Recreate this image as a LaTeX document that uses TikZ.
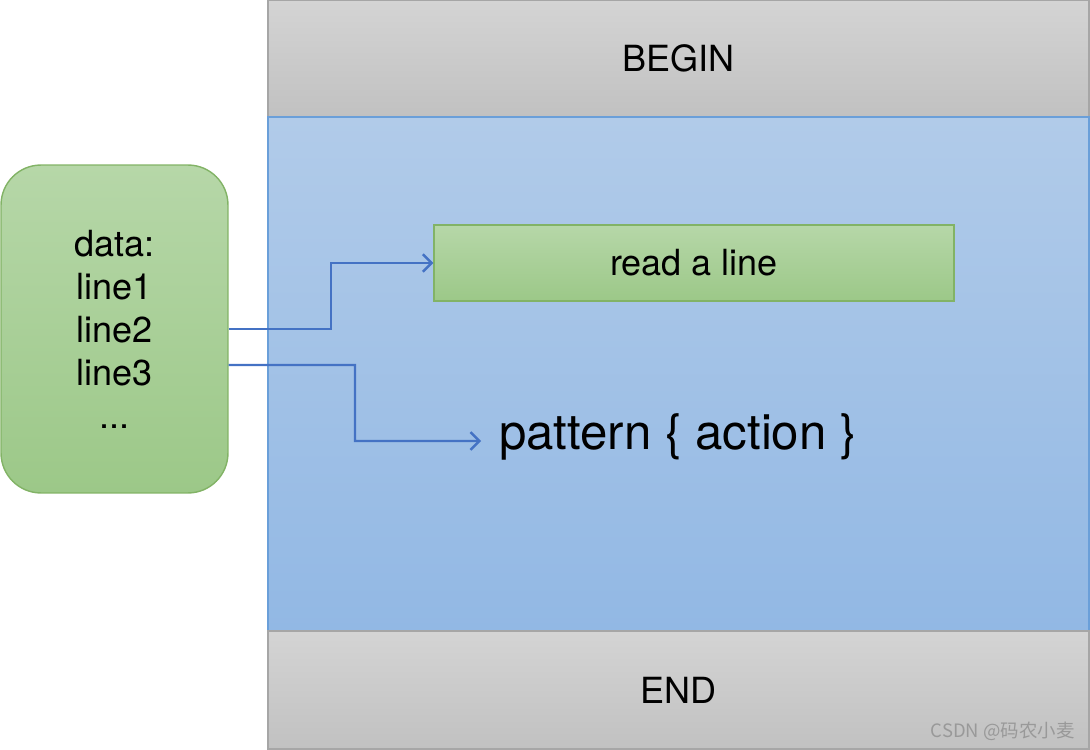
\documentclass[tikz,border=0pt]{standalone}
\usepackage{fontspec}
\setmainfont{TeX Gyre Heros}
\newfontfamily\cjk{Noto Sans CJK SC}
\usetikzlibrary{arrows.meta}
\definecolor{grayTop}{HTML}{D4D4D4}
\definecolor{grayBot}{HTML}{C1C1C1}
\definecolor{grayLine}{HTML}{A6A6A6}
\definecolor{blueTop}{HTML}{B1CBE9}
\definecolor{blueBot}{HTML}{92B8E4}
\definecolor{blueLine}{HTML}{6A9FD9}
\definecolor{greenTop}{HTML}{B6D7A8}
\definecolor{greenBot}{HTML}{9CC888}
\definecolor{greenLine}{HTML}{82B366}
\definecolor{arrowBlue}{HTML}{4472C4}
\tikzset{
  graybox/.style={draw=grayLine, line width=0.8pt, top color=grayTop, bottom color=grayBot,
    minimum width=16.42cm, inner sep=0pt},
  bluebox/.style={draw=blueLine, line width=0.8pt, top color=blueTop, bottom color=blueBot,
    minimum width=16.42cm, inner sep=0pt},
  greenbox/.style={draw=greenLine, line width=0.8pt, top color=greenTop, bottom color=greenBot,
    inner sep=0pt},
  flow/.style={draw=arrowBlue, line width=1.4pt, -{Straight Barb[length=5pt,width=10pt]}},
}
\begin{document}
\begin{tikzpicture}[x=0.02cm, y=-0.02cm, font=\fontsize{20.5}{24.5}\selectfont]

        \useasboundingbox (0,0) rectangle (1090,750);

        \node[graybox, minimum height=2.34cm] (begin) at (678.5,58.5) {BEGIN};
        \node[bluebox, minimum height=10.28cm] (main) at (678.5,374) {};
        \node[graybox, minimum height=2.36cm] (end) at (678.5,690) {END};

        \node[greenbox, rounded corners=0.8cm, minimum width=4.54cm, minimum height=6.56cm,
          align=center] (data) at (114.5,329) {data:\\line1\\line2\\line3\\...};
        \node[greenbox, minimum width=10.4cm, minimum height=1.52cm] (read) at (694,263) {read a line};

        \node[font=\fontsize{28}{32}\selectfont] (pattern) at (678,437) {pattern \{ action \}};
        \coordinate (tip) at (481,441);

        \draw[flow] (data.east) -- (331,329) |- (read.west);
        \draw[flow] ([yshift=-0.72cm]data.east) -- (355,365) |- (tip);

        \node[font=\cjk\fontsize{10.5}{12}\selectfont, text=gray!80, inner sep=0pt, anchor=east] (mark) at (1075,731) {CSDN @码农小麦};

      \end{tikzpicture}
\end{document}
